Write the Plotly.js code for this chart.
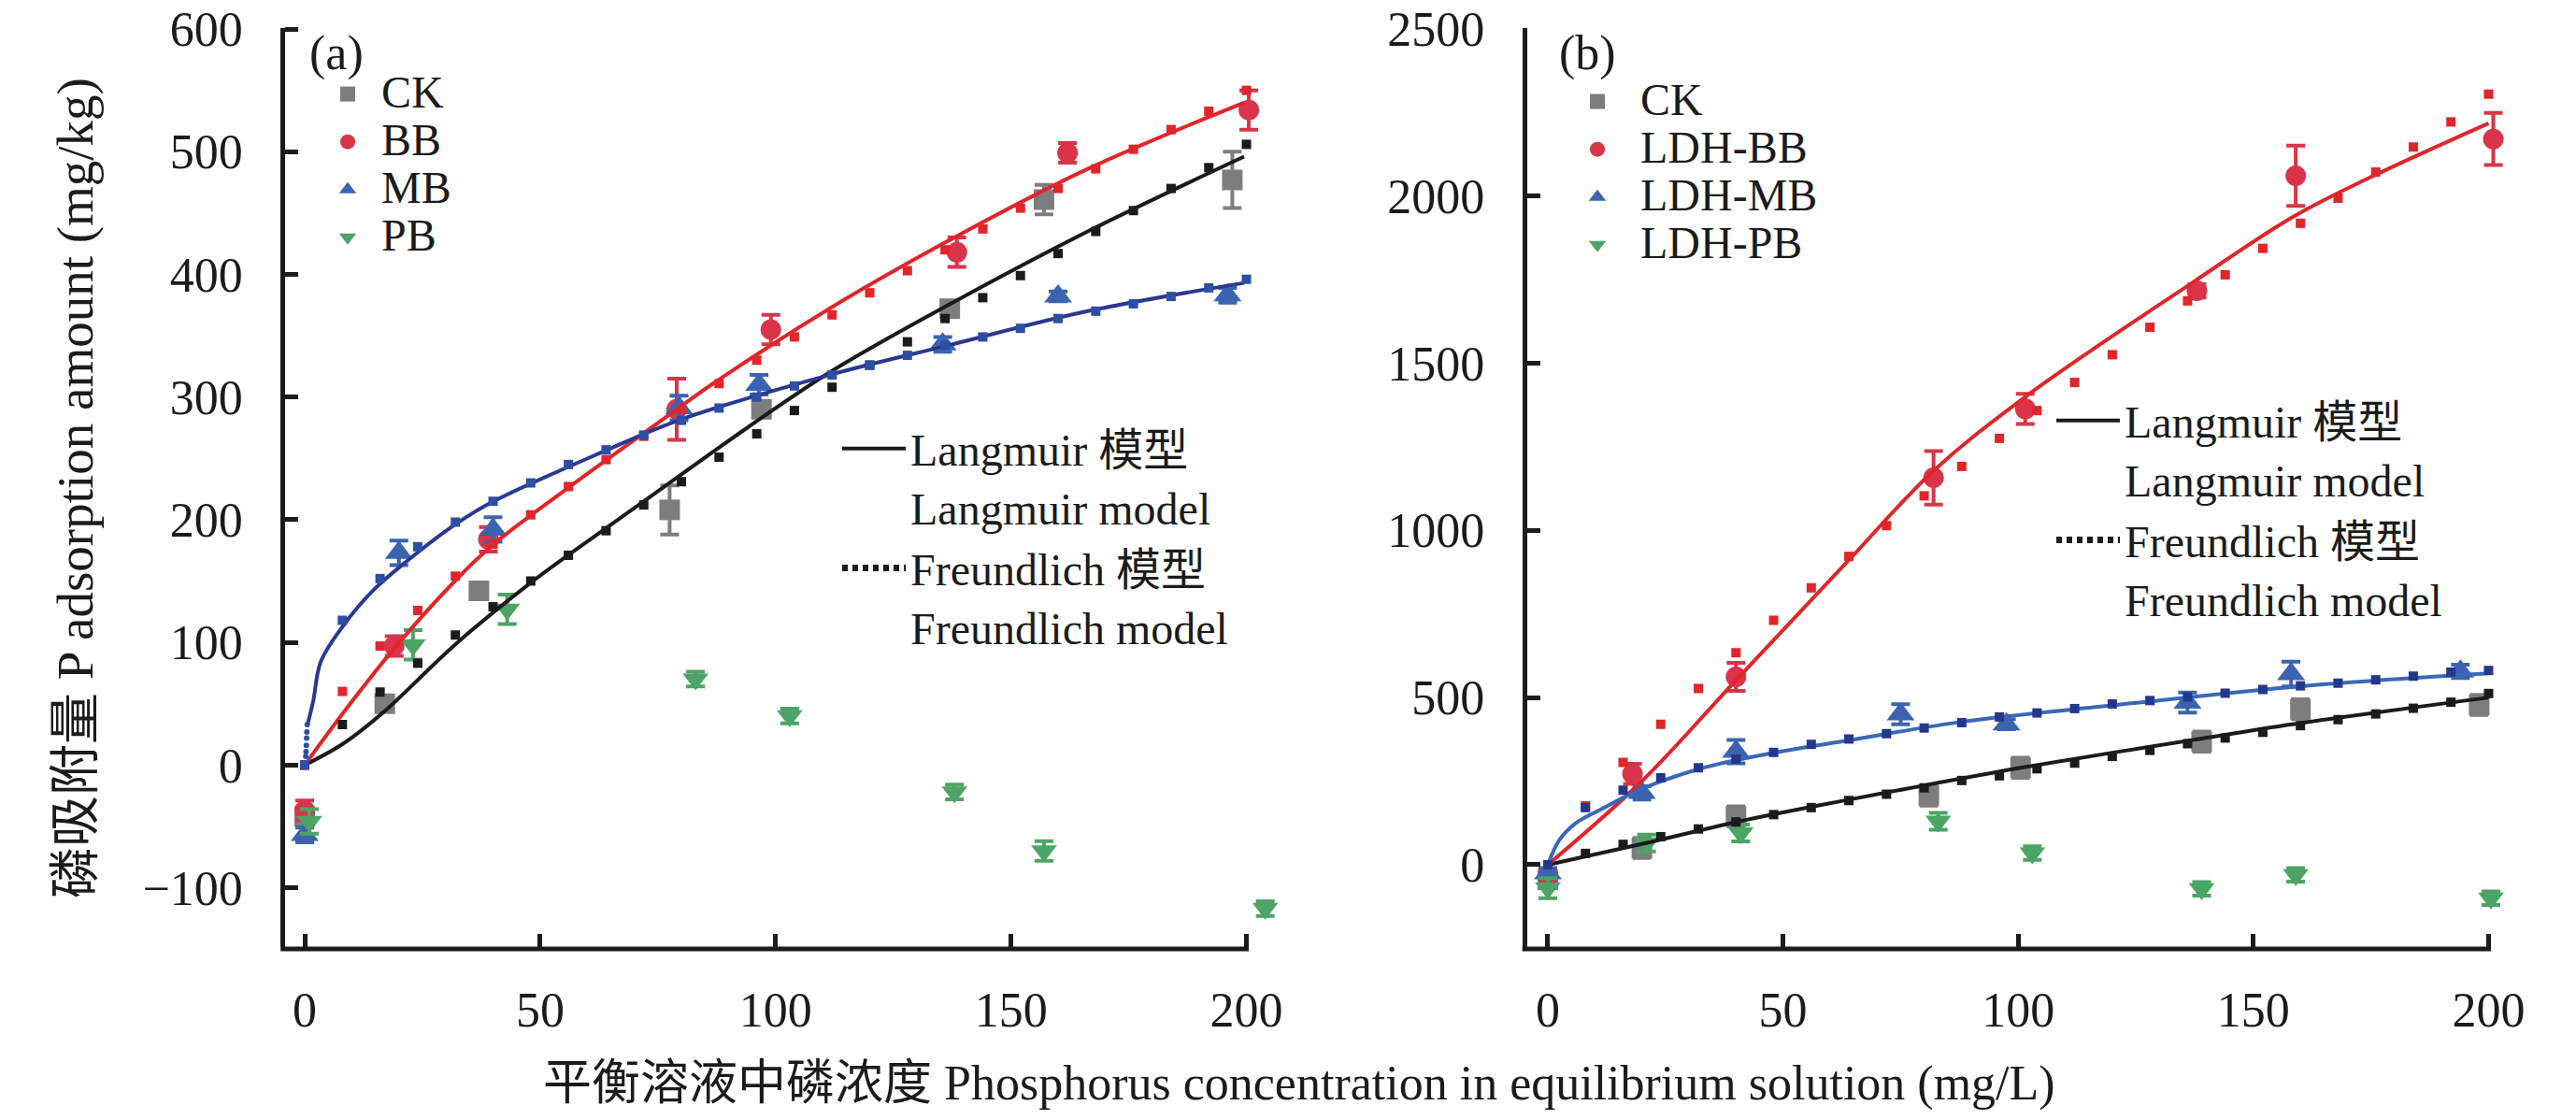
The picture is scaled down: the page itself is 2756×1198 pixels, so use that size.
<!DOCTYPE html>
<html>
<head>
<meta charset="utf-8">
<script src="https://cdn.plot.ly/plotly-3.0.1.min.js"></script>
<style>
  html, body { margin: 0; padding: 0; background: #fff; }
  #chart { width: 2756px; height: 1198px; }
</style>
</head>
<body>
<div id="chart"></div>
<script>
// ---------- Panel (a): biochars ----------
// measured isotherm points (mean and error)
const ckA_x = [0, 17, 37, 77.5, 97, 137, 157, 197];
const ckA_y = [-42, 50, 142, 208, 290, 372, 461, 477];
const ckA_e = [5, 6, 6, 20, 6, 6, 12, 23];

const bbA_x = [0, 19, 39, 79, 99, 138.5, 162, 200.5];
const bbA_y = [-37, 97, 184, 290, 355, 418, 499, 534];
const bbA_e = [8, 8, 10, 25, 12, 12, 8, 16];

const mbA_x = [0, 20, 40, 79.5, 96.5, 135.5, 160, 196];
const mbA_y = [-57, 173, 192, 291, 310, 343, 382, 383];
const mbA_e = [6, 10, 10, 10, 8, 6, 4, 6];

const pbA_x = [1, 23, 43, 83, 103, 138, 157, 204];
const pbA_y = [-46, 98, 127, 70, 40, -22, -70, -117];
const pbA_e = [10, 12, 12, 6, 6, 6, 8, 6];

// Langmuir fitted curves
const ckLangA_x = [0, 8, 16.7, 31.9, 47.8, 63.6, 74.2, 94, 112.3, 136.2, 166.3, 199.5];
const ckLangA_y = [0, 17, 43, 98, 148, 192, 221, 275, 322, 374, 435, 496];
const bbLangA_x = [0, 8.07, 19, 31.9, 39.8, 55.6, 79.4, 87.5, 111.4, 136.5, 166.3, 199.5];
const bbLangA_y = [0, 42, 95, 150, 179, 225, 291, 313, 372, 427, 486, 540];
const mbLangA_x = [0.6, 1.8, 3.4, 8.07, 14.7, 21.3, 31.9, 39.6, 63.7, 79.4, 111.4, 136.5, 166.3, 199.5];
const mbLangA_y = [33, 52, 84, 113, 143, 165, 196, 214, 256, 281, 318, 342, 370, 393];

// Freundlich fitted curves, sampled along the concentration grid
const concFit = [0, 8, 16, 24, 32, 40, 48, 56, 64, 72, 80, 88, 96, 104, 112, 120, 128, 136, 144, 152, 160, 168, 176, 184, 192, 200];
const ckFrA = [0, 33, 59.5, 83, 106, 129, 150, 171, 191, 212, 231, 251, 270, 289, 308, 326, 345, 364, 381, 399, 417, 435, 452, 470, 487, 506];
const bbFrA = [0, 60, 97, 126, 154, 180, 204, 227, 249, 268, 290, 311, 330, 349, 367, 385, 403, 420, 437, 454, 470, 486, 502, 518, 533, 550];
const mbFrA = [0, 118, 152, 178, 198, 215, 230, 245, 257, 269, 281, 291, 300, 309, 318, 326, 334, 342, 349, 356, 364, 370, 376, 382, 389, 396];
// fine Freundlich segment of MB close to the origin
const mbFrA0_x = [0.22, 0.28, 0.34, 0.4, 0.46, 0.54];
const mbFrA0_y = [7, 11, 16, 22, 27, 33];

// ---------- Panel (b): LDH-modified biochars ----------
const ckB_x = [0, 20, 40, 81, 100.5, 139, 160, 198];
const ckB_y = [-45, 50, 145, 207, 290, 368, 465, 478];
const ckB_e = [25, 30, 30, 30, 30, 30, 30, 30];

const bbB_x = [0, 18, 40, 82, 101.5, 138, 159, 201];
const bbB_y = [-35, 272, 562, 1157, 1363, 1716, 2060, 2170];
const bbB_e = [15, 30, 42, 80, 45, 20, 90, 78];

const mbB_x = [0, 20, 40, 75, 97.5, 136, 158, 194];
const mbB_y = [-25, 215, 338, 450, 420, 485, 570, 578];
const mbB_e = [15, 20, 35, 30, 15, 30, 37, 20];

const pbB_x = [0, 21, 41, 83, 103, 139, 159, 200.5];
const pbB_y = [-70, 65, 95, 130, 35, -72, -30, -100];
const pbB_e = [30, 25, 25, 25, 20, 20, 20, 20];

const ckLangB_x = [0, 20, 40.1, 64.5, 80.3, 100.5, 139.3, 160.2, 200];
const ckLangB_y = [0, 62, 128, 196, 238, 290, 378, 424, 500];
const bbLangB_x = [0, 20, 40, 63.6, 82, 101.7, 137.4, 158.4, 174.8, 200];
const bbLangB_y = [0, 250, 552, 905, 1178, 1401, 1744, 1937, 2055, 2217];
const mbLangB_x = [0, 2.4, 5.9, 11.2, 19.2, 32.5, 48.5, 64.4, 88.3, 120.3, 160.2, 200];
const mbLangB_y = [0, 73, 124, 165, 222, 288, 336, 373, 428, 477, 534, 572];

const ckFrB = [0, 34, 61, 84, 107, 128, 150, 171, 192, 211, 230, 252, 266, 287, 304, 324, 342, 362, 379, 396, 416, 434, 451, 468, 486, 512];
const bbFrB = [0, 176, 306, 420, 527, 634, 731, 828, 922, 1014, 1103, 1191, 1275, 1358, 1442, 1525, 1607, 1686, 1764, 1843, 1918, 1993, 2071, 2146, 2221, 2304];
const mbFrB = [0, 171, 223, 260, 290, 316, 336, 360, 376, 392, 409, 425, 442, 454, 467, 481, 491, 502, 513, 524, 535, 543, 553, 564, 576, 581];

// labels
const seriesNamesA = ['CK', 'BB', 'MB', 'PB'];
const seriesNamesB = ['CK', 'LDH-BB', 'LDH-MB', 'LDH-PB'];
const modelNames = ['Langmuir 模型<br>Langmuir model', 'Freundlich 模型<br>Freundlich model'];
const xTitle = '平衡溶液中磷浓度 Phosphorus concentration in equilibrium solution (mg/L)';
const yTitle = '磷吸附量 P adsorption amount (mg/kg)';

// ---------- styling ----------
const FONT = '"Liberation Serif", "Times New Roman", "Noto Sans CJK SC", serif';
const INK = '#1b1b1b';
const C_CK = '#7d7d7d', C_BB = '#d9344a', C_MB = '#3b64b0', C_PB = '#4ca466';
const C_RED = '#e0252b', C_NAVY_A = '#2a3990', C_DOT_A = '#2d4fa3', C_BLUE_B = '#3a68b6', C_DOT_B = '#25378c';

// series keys are set in 48px type inside a legend whose base size is smaller,
// which keeps the rows tightly stacked
const keyLabel = s => '<span style="font-size:48px">' + s + '</span>';

function observed(name, x, y, e, symbol, color, size, xa, ya, legend) {
  return {
    type: 'scatter', mode: 'markers', name: keyLabel(name), x: x, y: y,
    xaxis: xa, yaxis: ya, legend: legend, cliponaxis: false,
    marker: { symbol: symbol, size: size, color: color },
    error_y: { type: 'data', array: e, visible: true, color: color, thickness: 4, width: 10 }
  };
}
function langmuir(x, y, color, xa, ya) {
  return {
    type: 'scatter', mode: 'lines', x: x, y: y, xaxis: xa, yaxis: ya, showlegend: false,
    line: { color: color, width: 4, shape: 'spline' }, hoverinfo: 'skip'
  };
}
function freundlich(x, y, color, xa, ya, size) {
  return {
    type: 'scatter', mode: 'markers', x: x, y: y, xaxis: xa, yaxis: ya, showlegend: false,
    cliponaxis: false, marker: { symbol: 'square', size: size || 10, color: color }, hoverinfo: 'skip'
  };
}
function modelKey(name, dash, width, xa, ya, legend) {
  return {
    type: 'scatter', mode: 'lines', name: name, x: [null], y: [null], xaxis: xa, yaxis: ya,
    legend: legend, line: { color: INK, width: width, dash: dash }
  };
}

const traces = [
  // panel (a)
  observed(seriesNamesA[0], ckA_x, ckA_y, ckA_e, 'square', C_CK, 22, 'x', 'y', 'legend'),
  observed(seriesNamesA[1], bbA_x, bbA_y, bbA_e, 'circle', C_BB, 22, 'x', 'y', 'legend'),
  observed(seriesNamesA[2], mbA_x, mbA_y, mbA_e, 'triangle-up', C_MB, 26, 'x', 'y', 'legend'),
  observed(seriesNamesA[3], pbA_x, pbA_y, pbA_e, 'triangle-down', C_PB, 24, 'x', 'y', 'legend'),
  langmuir(ckLangA_x, ckLangA_y, INK, 'x', 'y'),
  langmuir(bbLangA_x, bbLangA_y, C_RED, 'x', 'y'),
  langmuir(mbLangA_x, mbLangA_y, C_NAVY_A, 'x', 'y'),
  freundlich(concFit, ckFrA, INK, 'x', 'y'),
  freundlich(concFit, bbFrA, C_RED, 'x', 'y'),
  freundlich(concFit, mbFrA, C_DOT_A, 'x', 'y'),
  {
    type: 'scatter', mode: 'markers', x: mbFrA0_x, y: mbFrA0_y, xaxis: 'x', yaxis: 'y',
    showlegend: false, marker: { symbol: 'circle', size: 6, color: C_DOT_A }, hoverinfo: 'skip'
  },
  modelKey(modelNames[0], 'solid', 4, 'x', 'y', 'legend2'),
  modelKey(modelNames[1], '6px,5px', 7, 'x', 'y', 'legend2'),

  // panel (b)
  observed(seriesNamesB[0], ckB_x, ckB_y, ckB_e, 'square', C_CK, 22, 'x2', 'y2', 'legend3'),
  observed(seriesNamesB[1], bbB_x, bbB_y, bbB_e, 'circle', C_BB, 22, 'x2', 'y2', 'legend3'),
  observed(seriesNamesB[2], mbB_x, mbB_y, mbB_e, 'triangle-up', C_MB, 26, 'x2', 'y2', 'legend3'),
  observed(seriesNamesB[3], pbB_x, pbB_y, pbB_e, 'triangle-down', C_PB, 24, 'x2', 'y2', 'legend3'),
  langmuir(ckLangB_x, ckLangB_y, INK, 'x2', 'y2'),
  langmuir(bbLangB_x, bbLangB_y, C_RED, 'x2', 'y2'),
  langmuir(mbLangB_x, mbLangB_y, C_BLUE_B, 'x2', 'y2'),
  freundlich(concFit, ckFrB, INK, 'x2', 'y2'),
  freundlich(concFit, bbFrB, C_RED, 'x2', 'y2'),
  freundlich(concFit, mbFrB, C_DOT_B, 'x2', 'y2'),
  modelKey(modelNames[0], 'solid', 4, 'x2', 'y2', 'legend4'),
  modelKey(modelNames[1], '6px,5px', 7, 'x2', 'y2', 'legend4')
];

const W = 2756, H = 1198;
const px = v => v / W;
const py = v => 1 - v / H;

const axisBase = {
  linewidth: 5,
  ticks: 'inside', ticklen: 14, tickwidth: 5, tickcolor: INK,
  showgrid: false, zeroline: false, fixedrange: true,
  tickfont: { family: FONT, size: 52, color: INK }
};
// the x axes run a little past 200 so the last measured points stay visible;
// their visible baseline stops at the 200 tick (see shapes)
const xBase = Object.assign({}, axisBase, {
  showline: true, linecolor: 'rgba(0,0,0,0)',
  tickmode: 'linear', tick0: 0, dtick: 50, ticklabelstandoff: 18
});
const yBase = Object.assign({}, axisBase, {
  showline: true, linecolor: INK, tickmode: 'linear', tick0: 0, ticklabelstandoff: 30
});

const legendBase = {
  font: { family: FONT, size: 48, color: INK },
  bgcolor: 'rgba(0,0,0,0)', borderwidth: 0,
  xanchor: 'left', yanchor: 'top', valign: 'top', tracegroupgap: 0
};

const baseline = (x0, x1, y) => ({
  type: 'line', xref: 'paper', yref: 'paper', x0: px(x0), x1: px(x1), y0: py(y), y1: py(y),
  line: { color: INK, width: 5 }, layer: 'above'
});

const layout = {
  width: W, height: H,
  margin: { l: 0, r: 0, t: 0, b: 0, pad: 0 },
  paper_bgcolor: '#ffffff', plot_bgcolor: '#ffffff',
  font: { family: FONT, color: INK },
  showlegend: true,
  xaxis: Object.assign({}, xBase, { domain: [px(305.2), px(1368.8)], range: [-4.13, 207], anchor: 'y' }),
  yaxis: Object.assign({}, yBase, { domain: [py(1012.5), py(30)], range: [-148, 600.8], dtick: 100, anchor: 'x' }),
  xaxis2: Object.assign({}, xBase, { domain: [px(1633.7), px(2697.7)], range: [-4.43, 207], anchor: 'y2' }),
  yaxis2: Object.assign({}, yBase, { domain: [py(1012.5), py(30)], range: [-244.6, 2501.7], dtick: 500, anchor: 'x2' }),
  shapes: [baseline(300.2, 1336, 1015), baseline(1628.7, 2665, 1015)],
  legend: Object.assign({}, legendBase, { x: px(336), y: py(70), itemwidth: 62, font: { family: FONT, size: 37, color: INK } }),
  legend2: Object.assign({}, legendBase, { x: px(896), y: py(442), itemwidth: 68 }),
  legend3: Object.assign({}, legendBase, { x: px(1663), y: py(78), itemwidth: 82, font: { family: FONT, size: 37, color: INK } }),
  legend4: Object.assign({}, legendBase, { x: px(2195), y: py(412), itemwidth: 68 }),
  annotations: [
    { text: '(a)', x: px(360), y: py(57), xref: 'paper', yref: 'paper', showarrow: false,
      xanchor: 'center', yanchor: 'middle', font: { family: FONT, size: 52, color: INK } },
    { text: '(b)', x: px(1698), y: py(57), xref: 'paper', yref: 'paper', showarrow: false,
      xanchor: 'center', yanchor: 'middle', font: { family: FONT, size: 52, color: INK } },
    { text: xTitle, x: px(1390), y: py(1159), xref: 'paper', yref: 'paper', showarrow: false,
      xanchor: 'center', yanchor: 'middle', font: { family: FONT, size: 52, color: INK } },
    { text: yTitle, x: px(80), y: py(522), xref: 'paper', yref: 'paper', showarrow: false,
      textangle: -90, xanchor: 'center', yanchor: 'middle', font: { family: FONT, size: 55, color: INK } }
  ]
};

Plotly.newPlot('chart', traces, layout, { staticPlot: true, displayModeBar: false });
</script>
</body>
</html>
